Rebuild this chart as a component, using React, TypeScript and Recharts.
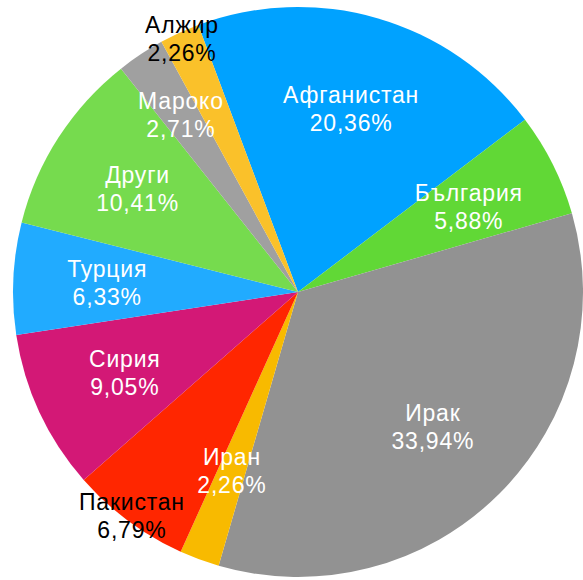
import { PieChart, Pie, Cell } from "recharts";

/* ---------- DATA ---------- */
const countries = [
  "Афганистан",
  "България",
  "Ирак",
  "Иран",
  "Пакистан",
  "Сирия",
  "Турция",
  "Други",
  "Мароко",
  "Алжир",
];
const shares = [20.36, 5.88, 33.94, 2.26, 6.79, 9.05, 6.33, 10.41, 2.71, 2.26];

/* ---------- COLORS ---------- */
const COLORS = [
  "#00A2FF",
  "#61D836",
  "#929292",
  "#F8BA00",
  "#FF2600",
  "#D31876",
  "#21ABFF",
  "#76DB4E",
  "#A0A0A0",
  "#FAC12A",
];

/* ---------- LABEL PLACEMENT ---------- */
const OUTSIDE = ["Пакистан", "Алжир"];
const LABEL_R: Record<string, number> = { Мароко: 212, Пакистан: 279, Алжир: 279 };

const data = countries.map((name, i) => ({ name, value: shares[i] }));

const RADIAN = Math.PI / 180;
const FONT = "'Liberation Sans', Arial, Helvetica, sans-serif";

function formatPct(v: number) {
  return `${v.toFixed(2).replace(".", ",")}%`;
}

function renderLabel(props: any) {
  const { cx, cy, midAngle, name, value } = props;
  const r = LABEL_R[name] ?? 191;
  const x = cx + r * Math.cos(-midAngle * RADIAN);
  const y = cy + r * Math.sin(-midAngle * RADIAN);
  const fill = OUTSIDE.includes(name) ? "#000000" : "#ffffff";

  return (
    <text
      x={x}
      y={y}
      textAnchor="middle"
      fill={fill}
      fontFamily={FONT}
      fontSize={23}
      letterSpacing={0.8}
    >
      <tspan x={x} y={y - 5.75}>
        {name}
      </tspan>
      <tspan x={x} y={y + 22.25}>
        {formatPct(value)}
      </tspan>
    </text>
  );
}

/* ---------- COMPONENT ---------- */
export default function App() {
  return (
    <div style={{ position: "absolute", left: 0, top: 0, width: 583, height: 580 }}>
      <PieChart width={583} height={580} margin={{ top: 0, right: 0, bottom: 0, left: 0 }}>
        <Pie
          data={data}
          dataKey="value"
          nameKey="name"
          cx={298}
          cy={292}
          outerRadius={285}
          startAngle={110.5}
          endAngle={-249.5}
          stroke="none"
          label={renderLabel}
          labelLine={false}
          isAnimationActive={false}
        >
          {data.map((d, i) => (
            <Cell key={d.name} fill={COLORS[i]} />
          ))}
        </Pie>
      </PieChart>
    </div>
  );
}
